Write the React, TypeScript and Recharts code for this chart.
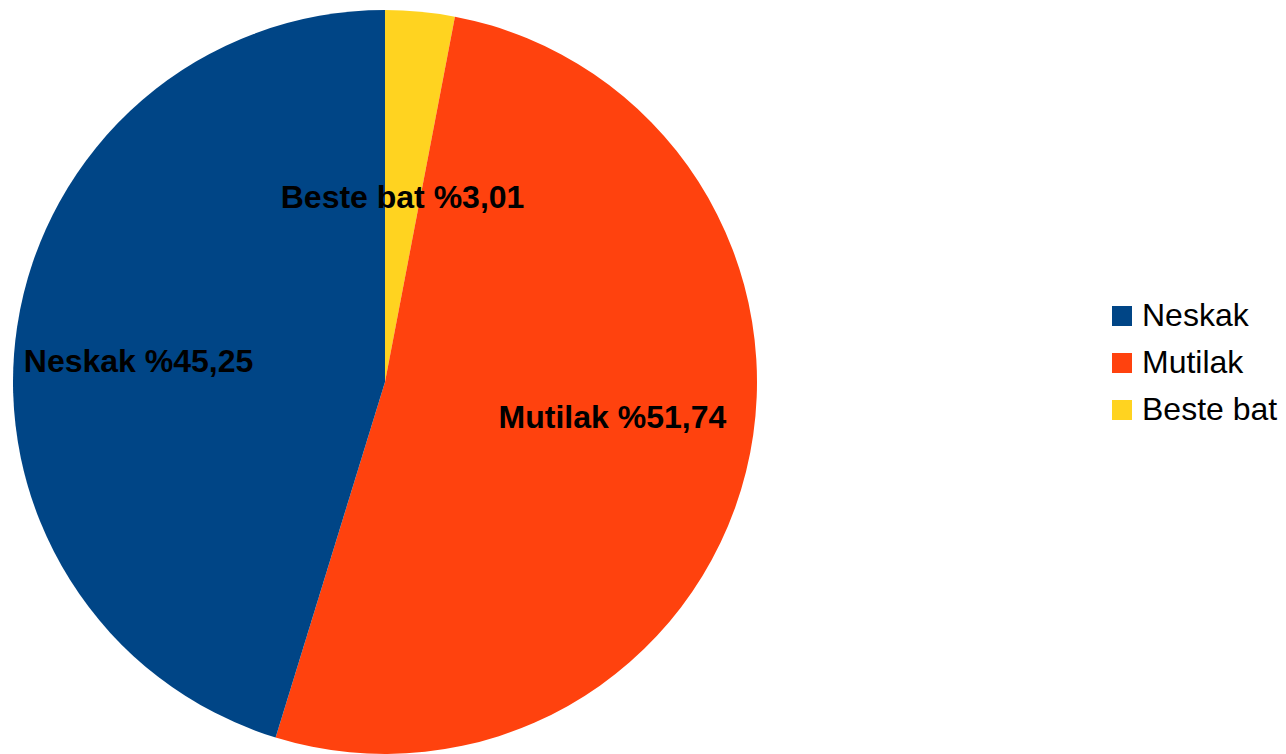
import React from "react";
import { PieChart, Pie, Cell, Legend } from "recharts";

const categories = ["Beste bat", "Mutilak", "Neskak"];
const values = [3.01, 51.74, 45.25];
const valueLabels = ["3,01", "51,74", "45,25"];
const legendOrder = ["Neskak", "Mutilak", "Beste bat"];

const COLORS: Record<string, string> = {
  Neskak: "#004586",
  Mutilak: "#ff420e",
  "Beste bat": "#ffd320",
};

const LABEL_RADIUS = [0.5, 0.63, 0.67];
const LABEL_NUDGE_Y = [0, -22, 16];

const data = categories.map((name, i) => ({ name, value: values[i], label: valueLabels[i] }));

const RAD = Math.PI / 180;

const renderLabel = (props: any) => {
  const { cx, cy, midAngle, outerRadius, index } = props;
  const r = outerRadius * LABEL_RADIUS[index];
  const x = cx + r * Math.cos(-midAngle * RAD);
  const y = cy + r * Math.sin(-midAngle * RAD) + LABEL_NUDGE_Y[index];
  return (
    <text
      x={x}
      y={y + 11}
      textAnchor="middle"
      fill="#000"
      fontFamily="'Liberation Sans', Arial, sans-serif"
      fontWeight="bold"
      fontSize={32}
    >
      {`${data[index].name} %${data[index].label}`}
    </text>
  );
};

const renderLegend = () => (
  <div style={{ fontFamily: "'Liberation Sans', Arial, sans-serif", fontSize: 32, color: "#000" }}>
    {legendOrder.map((name) => (
      <div key={name} style={{ display: "flex", alignItems: "center", height: 47 }}>
        <span style={{ display: "inline-block", width: 20, height: 20, background: COLORS[name], marginRight: 10 }} />
        <span style={{ lineHeight: "47px" }}>{name}</span>
      </div>
    ))}
  </div>
);

export default function App() {
  return (
    <div style={{ position: "absolute", left: 0, top: 0, width: 1286, height: 754, background: "#fff" }}>
      <PieChart width={1286} height={754} margin={{ top: 0, right: 0, bottom: 0, left: 0 }}>
        <Pie
          data={data}
          dataKey="value"
          nameKey="name"
          cx={385}
          cy={382}
          outerRadius={372}
          startAngle={90}
          endAngle={-270}
          stroke="none"
          label={renderLabel}
          labelLine={false}
          isAnimationActive={false}
        >
          {data.map((d) => (
            <Cell key={d.name} fill={COLORS[d.name]} />
          ))}
        </Pie>
        <Legend
          content={renderLegend}
          wrapperStyle={{ position: "absolute", left: 1112, top: 292, width: 174 }}
        />
      </PieChart>
    </div>
  );
}
